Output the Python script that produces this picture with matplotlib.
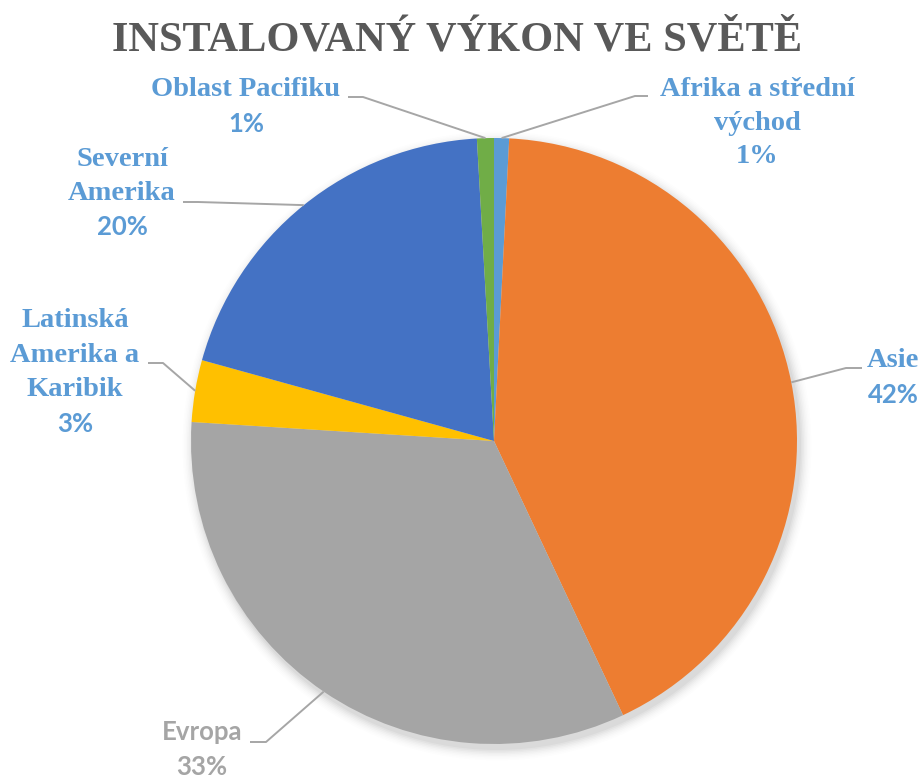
import numpy as np
import matplotlib.pyplot as plt
from matplotlib import font_manager as fm
from matplotlib.patches import Circle

# data (percent of installed capacity)
regions = ['Afrika a střední\nvýchod', 'Asie', 'Evropa',
           'Latinská\nAmerika a\nKaribik', 'Severní\nAmerika', 'Oblast Pacifiku']
shares = [0.8, 42.2, 33.0, 3.3, 19.8, 0.9]
colors = ['#5B9BD5', '#ED7D31', '#A5A5A5', '#FFC000', '#4472C4', '#70AD47']
label_colors = ['#5B9BD5', '#5B9BD5', '#A5A5A5', '#5B9BD5', '#5B9BD5', '#5B9BD5']

W, H = 924, 778
CX, CY, R = 494, 441, 303


def font(family, size):
    path = fm.findfont(fm.FontProperties(family=family, weight='bold'))
    return fm.FontProperties(fname=path, size=size)


SERIF = font('Liberation Serif', 20.5)
SANS = font('Lato', 18.5)
TITLE = font('Liberation Serif', 30.5)

# label layout in pixel coords: x centre, baselines of each line, elbow points
layout = [
    dict(x=757, ys=[96, 130, 163], line=[(648, 96), (635, 96)],
         name_font=SERIF, pct_font=SERIF),
    dict(x=893, ys=[367, 403], line=[(862, 368), (846, 368)],
         name_font=SERIF, pct_font=SANS),
    dict(x=202, ys=[740, 775], line=[(250, 742), (266, 742)],
         name_font=SANS, pct_font=SANS),
    dict(x=75, ys=[327, 362, 396, 432], line=[(148, 363), (163, 363)],
         name_font=SERIF, pct_font=SANS),
    dict(x=122, ys=[166, 200, 235], line=[(183, 202), (198, 202)],
         name_font=SERIF, pct_font=SANS),
    dict(x=246, ys=[96, 132], line=[(348, 97), (363, 97)],
         name_font=SERIF, pct_font=SANS),
]

fig = plt.figure(figsize=(W / 100, H / 100), dpi=100)
ax = fig.add_axes([0, 0, 1, 1])


def py(y):
    return H - y


# soft shadow
for i, a in enumerate(np.linspace(0.03, 0.006, 8)):
    ax.add_patch(Circle((CX + 3, py(CY) - 5), R + 1 + i * 1.5,
                        color='black', alpha=a, lw=0, zorder=1))

wedges, _ = ax.pie(shares, colors=colors, startangle=90, counterclock=False,
                   center=(CX, py(CY)), radius=R, frame=True,
                   wedgeprops=dict(linewidth=0, zorder=2))
ax.set_xlim(0, W)
ax.set_ylim(0, H)
ax.set_aspect('equal')
ax.axis('off')

for w, name, val, lc, lay in zip(wedges, regions, shares, label_colors, layout):
    mid = np.deg2rad((w.theta1 + w.theta2) / 2)
    px = CX + R * np.cos(mid)
    pyy = py(CY) + R * np.sin(mid)
    (x1, y1), (x2, y2) = lay['line']
    ax.plot([x1, x2, px], [py(y1), py(y2), pyy], color='#A6A6A6', lw=1.4,
            zorder=3, solid_capstyle='butt')
    lines = name.split('\n')
    for ln, yb in zip(lines, lay['ys']):
        ax.text(lay['x'], py(yb), ln, ha='center', va='baseline',
                fontproperties=lay['name_font'], color=lc)
    ax.text(lay['x'], py(lay['ys'][-1]), f'{val:.0f}%',
            ha='center', va='baseline', fontproperties=lay['pct_font'], color=lc)

ax.text(457, py(50), 'INSTALOVANÝ VÝKON VE SVĚTĚ', ha='center', va='baseline',
        fontproperties=TITLE, color='#595959')

fig.savefig('out.png', dpi=100)
